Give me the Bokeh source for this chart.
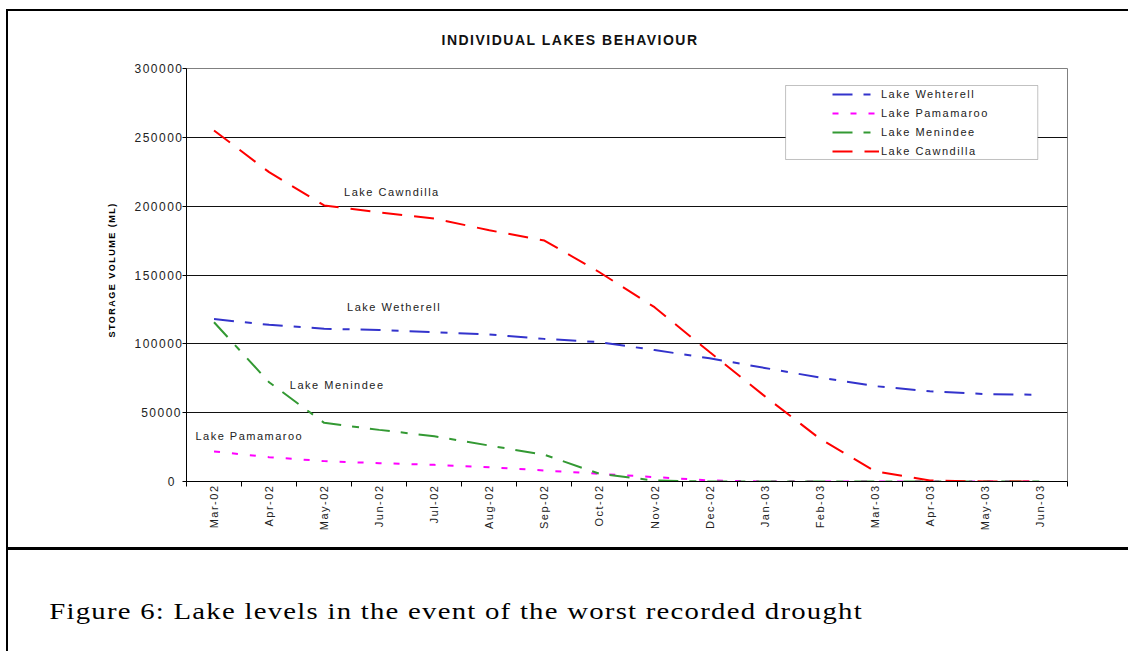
from bokeh.plotting import figure
from bokeh.models import FixedTicker, Label, BoxAnnotation, Legend, LegendItem, Div, Range1d, Title
from bokeh.layouts import column
from bokeh.embed import file_html
from bokeh.resources import INLINE

# ---- data ----
months = ["Mar-02", "Apr-02", "May-02", "Jun-02", "Jul-02", "Aug-02", "Sep-02", "Oct-02",
          "Nov-02", "Dec-02", "Jan-03", "Feb-03", "Mar-03", "Apr-03", "May-03", "Jun-03"]
wetherell = [118000, 113800, 111000, 110000, 108500, 106800, 103600, 101200,
             95500, 89500, 82500, 75500, 69300, 65500, 63500, 63000]
pamamaroo = [21800, 17700, 14800, 13300, 12100, 10400, 8000, 5600,
             3200, 800, 0, 0, 0, 0, 0, 0]
menindee = [115700, 72100, 42600, 37500, 32900, 26100, 19400, 5600,
            700, 0, 0, 0, 0, 0, 0, 0]
cawndilla = [255000, 224700, 200500, 195500, 191000, 182500, 175000, 152000,
             126600, 94000, 62000, 31200, 7500, 700, 0, 0]
y_ticks = [0, 50000, 100000, 150000, 200000, 250000, 300000]

legend_names = ["Lake Wehterell", "Lake Pamamaroo", "Lake Menindee", "Lake Cawndilla"]
title_text = "INDIVIDUAL LAKES BEHAVIOUR"
y_label = "STORAGE VOLUME (ML)"
caption_text = "Figure 6: Lake levels in the event of the worst recorded drought"

FONT = "Liberation Sans"
xs = [i + 0.5 for i in range(len(months))]

p = figure(width=1120, height=536, output_backend="svg", toolbar_location=None,
           x_range=Range1d(0, len(months)), y_range=Range1d(0, 300000),
           min_border_left=178, min_border_top=57, min_border_right=61, min_border_bottom=66,
           background_fill_color="white", border_fill_color="white",
           styles={"letter-spacing": "1.5px"})
p.outline_line_color = "#808080"
p.outline_line_width = 1

# chart title
p.title.text = title_text
p.title.align = "left"
p.title.vertical_align = "top"
p.title.offset = 255
p.title.standoff = 38
p.title.text_font = FONT
p.title.text_font_size = "14px"
p.title.text_font_style = "bold"
p.title.text_color = "#111111"

# grid
p.xgrid.visible = False
p.ygrid.ticker = FixedTicker(ticks=y_ticks)
p.ygrid.grid_line_color = "#111111"
p.ygrid.grid_line_width = 1

# y axis
p.yaxis.ticker = FixedTicker(ticks=y_ticks)
p.yaxis.formatter.use_scientific = False
p.yaxis.major_label_text_font = FONT
p.yaxis.major_label_text_font_size = "12px"
p.yaxis.major_label_text_color = "#222222"
p.yaxis.major_tick_out = 4
p.yaxis.major_tick_in = 0
p.yaxis.minor_tick_line_color = None
p.yaxis.major_label_standoff = 8
p.yaxis.axis_line_color = "black"
p.yaxis.major_tick_line_color = "black"

# y axis title (as a side title so that its position can be set)
p.add_layout(Title(text=y_label, align="left", offset=144, standoff=30, text_font=FONT,
                   text_font_size="9px", text_font_style="bold", text_color="black"), "left")

# x axis: labels at category centres, ticks between categories
p.xaxis.ticker = FixedTicker(ticks=xs, minor_ticks=list(range(len(months) + 1)))
p.xaxis.major_label_overrides = {x: m for x, m in zip(xs, months)}
p.xaxis.major_label_orientation = 3.14159265 / 2
p.xaxis.major_label_text_font = FONT
p.xaxis.major_label_text_font_size = "11px"
p.xaxis.major_label_text_color = "#222222"
p.xaxis.major_tick_line_color = None
p.xaxis.major_tick_in = 0
p.xaxis.major_tick_out = 0
p.xaxis.major_label_standoff = 7
p.xaxis.minor_tick_line_color = "black"
p.xaxis.minor_tick_in = 0
p.xaxis.minor_tick_out = 5
p.xaxis.axis_line_color = "black"

# series
r_w = p.line(xs, wetherell, line_color="#3333CC", line_width=2, line_dash="20 11 7 11")
r_p = p.line(xs, pamamaroo, line_color="#FF00FF", line_width=2, line_dash="6 12")
r_m = p.line(xs, menindee, line_color="#339933", line_width=2, line_dash="20 11 7 11")
r_c = p.line(xs, cawndilla, line_color="#FF0000", line_width=2, line_dash="20 12")

# legend frame
box = BoxAnnotation(left=10.88, right=15.46, bottom=233900, top=287650,
                    fill_color="white", fill_alpha=1.0, line_color="#333333", line_width=1)
p.add_layout(box)

legend = Legend(items=[LegendItem(label=n, renderers=[r]) for n, r in
                       zip(legend_names, [r_w, r_p, r_m, r_c])],
                location=(646, 321), padding=0, spacing=1, margin=0,
                glyph_height=18, glyph_width=47, label_height=18, label_standoff=2,
                label_text_font=FONT, label_text_font_size="11px", label_text_color="#222222",
                border_line_color=None, background_fill_alpha=0)
p.add_layout(legend)

# in-chart series labels
for txt, lx, ly in [("Lake Cawndilla", 3.54, 210150), ("Lake Wetherell", 3.58, 127100),
                    ("Lake Menindee", 2.56, 70460), ("Lake Pamamaroo", 0.95, 33400)]:
    p.add_layout(Label(x=lx, y=ly, text=txt, text_align="center", text_baseline="middle",
                       text_font=FONT, text_font_size="11px", text_color="#222222"))

cap = Div(text=f'<div style="padding:46px 0 0 33px; font-family:\'Liberation Serif\'; '
               f'font-size:23px; letter-spacing:1px; color:black; white-space:nowrap; '
               f'transform:scaleX(1.25); transform-origin:left top">{caption_text}</div>',
          width=1120, height=104, margin=0, styles={"border-top": "3px solid black"})

layout = column(p, cap, margin=(9, 0, 0, 6),
                styles={"border-left": "2px solid black", "border-top": "2px solid black"})

open("out.html", "w").write(file_html(layout, INLINE))
